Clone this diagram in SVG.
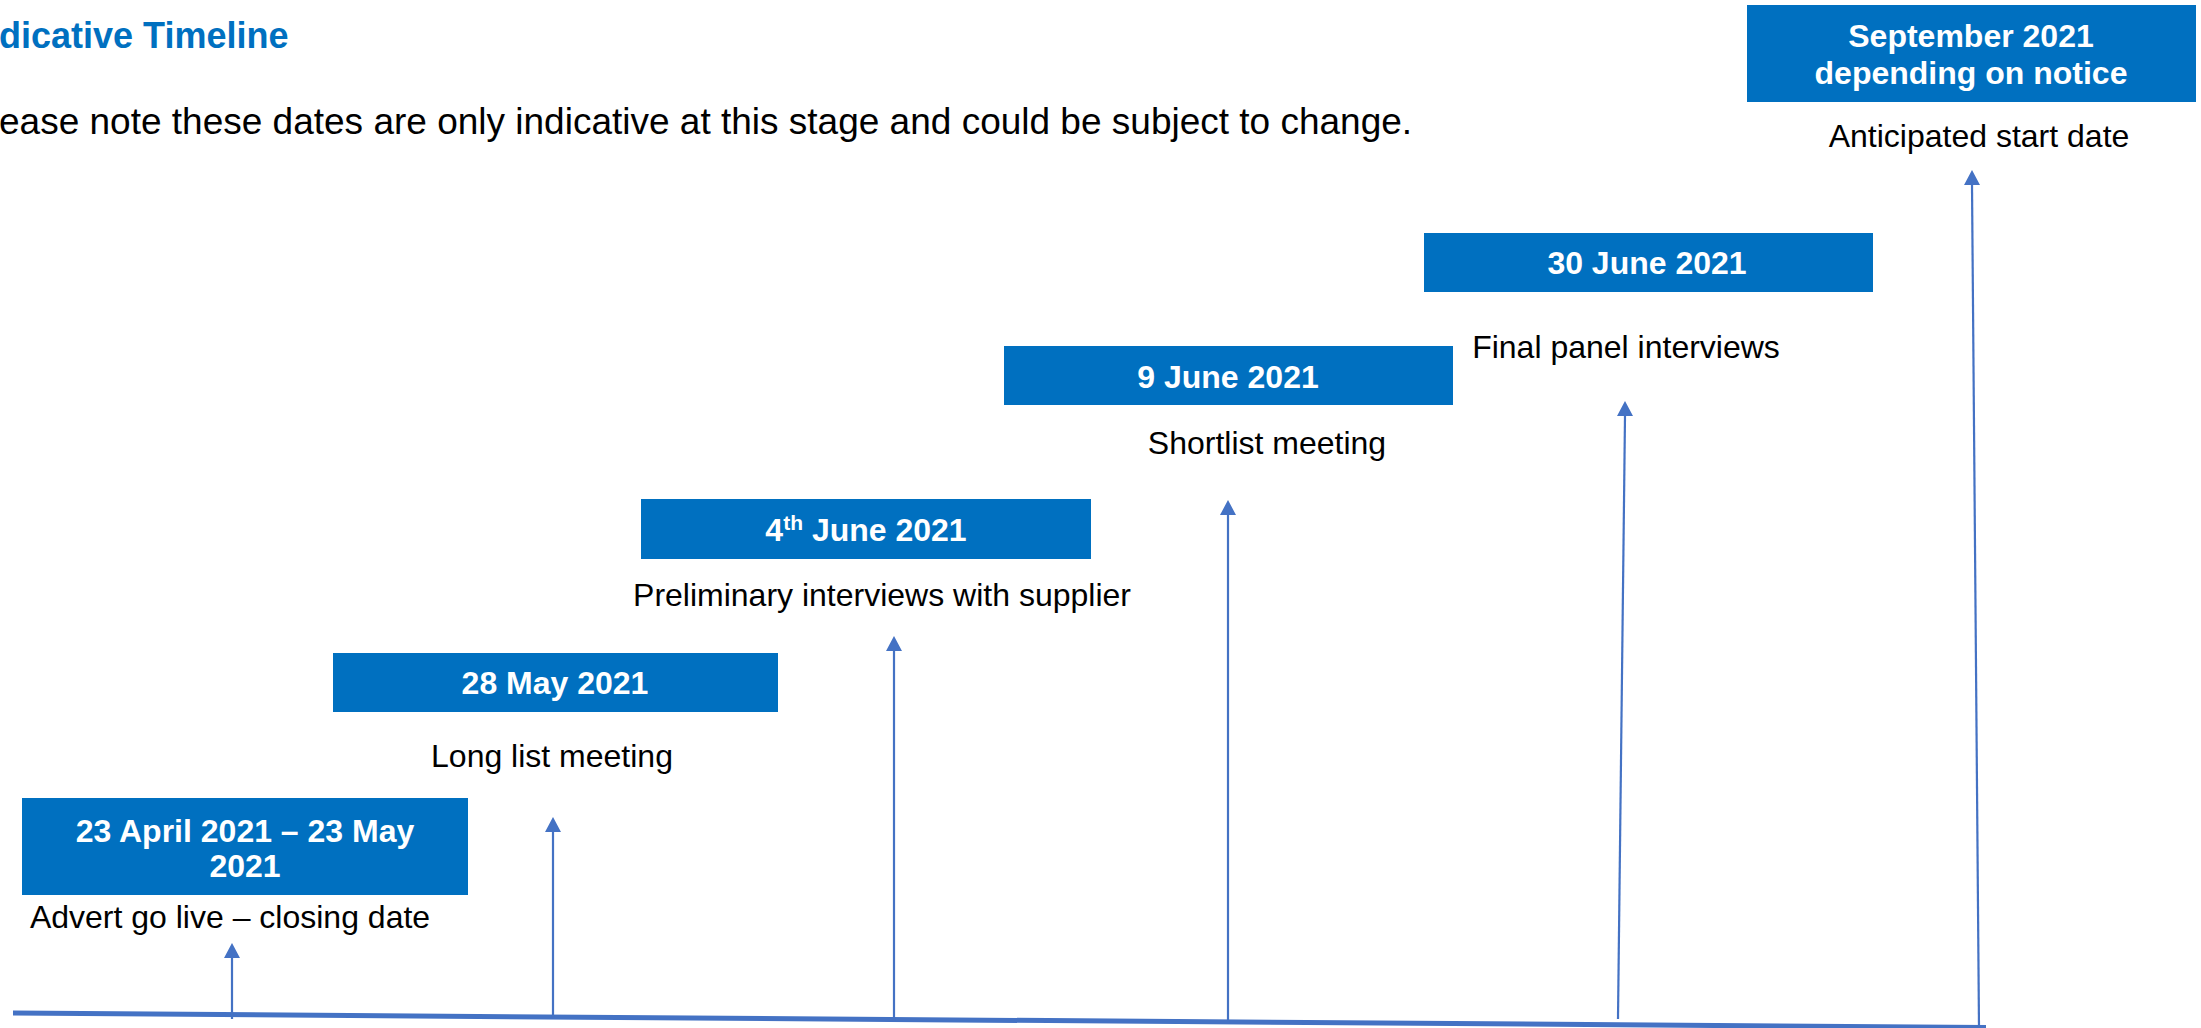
<svg xmlns="http://www.w3.org/2000/svg" width="2201" height="1028" viewBox="0 0 2201 1028">
  <style>
    .box { fill: #0070C0; }
    .date { font-family: "Liberation Sans", Arial, sans-serif; font-weight: bold; font-size: 32px; fill: #FFFFFF; text-anchor: middle; }
    .label { font-family: "Liberation Sans", Arial, sans-serif; font-size: 32px; fill: #000000; text-anchor: middle; }
    .title { font-family: "Liberation Sans", Arial, sans-serif; font-weight: bold; font-size: 36px; fill: #0070C0; }
    .note { font-family: "Liberation Sans", Arial, sans-serif; font-size: 37px; fill: #000000; }
    .axis { stroke: #4472C4; stroke-width: 5; fill: none; }
    .stem { stroke: #4472C4; stroke-width: 2.2; fill: none; }
    .head { fill: #4472C4; }
  </style>

  <rect width="2201" height="1028" fill="#FFFFFF"/>

  <!-- heading -->
  <text class="title" x="-1" y="48">dicative Timeline</text>
  <text class="note" x="-1" y="134">ease note these dates are only indicative at this stage and could be subject to change.</text>

  <!-- connectors: time axis and milestone stems with arrowheads -->
  <g id="connectors">
    <line class="axis" x1="13" y1="1013" x2="1986" y2="1027.5"/>
    <path class="stem" d="M232 1019 L232 958"/>
    <path class="stem" d="M553 1018 L553 832"/>
    <path class="stem" d="M894 1021 L894 651"/>
    <path class="stem" d="M1228 1023 L1228 515"/>
    <path class="stem" d="M1618 1019 L1625 416"/>
    <path class="stem" d="M1979 1028 L1972 185"/>
    <path class="head" d="M232 943 L224 958 L240 958 Z"/>
    <path class="head" d="M553 817 L545 832 L561 832 Z"/>
    <path class="head" d="M894 636 L886 651 L902 651 Z"/>
    <path class="head" d="M1228 500 L1220 515 L1236 515 Z"/>
    <path class="head" d="M1625 401 L1617 416 L1633 416 Z"/>
    <path class="head" d="M1972 170 L1964 185 L1980 185 Z"/>
  </g>

  <g id="m1-advert">
    <rect class="box" x="22" y="798" width="446" height="97"/>
    <text class="date" x="245" y="842">23 April 2021 – 23 May</text>
    <text class="date" x="245" y="877">2021</text>
    <text class="label" x="230" y="928">Advert go live – closing date</text>
  </g>

  <g id="m2-longlist">
    <rect class="box" x="333" y="653" width="445" height="59"/>
    <text class="date" x="555" y="694">28 May 2021</text>
    <text class="label" x="552" y="767">Long list meeting</text>
  </g>

  <g id="m3-preliminary">
    <rect class="box" x="641" y="499" width="450" height="60"/>
    <text class="date" x="866" y="541">4<tspan font-size="21px" baseline-shift="11px">th</tspan> June 2021</text>
    <text class="label" x="882" y="606">Preliminary interviews with supplier</text>
  </g>

  <g id="m4-shortlist">
    <rect class="box" x="1004" y="346" width="449" height="59"/>
    <text class="date" x="1228" y="388">9 June 2021</text>
    <text class="label" x="1267" y="454">Shortlist meeting</text>
  </g>

  <g id="m5-final">
    <rect class="box" x="1424" y="233" width="449" height="59"/>
    <text class="date" x="1647" y="274">30 June 2021</text>
    <text class="label" x="1626" y="358">Final panel interviews</text>
  </g>

  <g id="m6-start">
    <rect class="box" x="1747" y="5" width="449" height="97"/>
    <text class="date" x="1971" y="47">September 2021</text>
    <text class="date" x="1971" y="84">depending on notice</text>
    <text class="label" x="1979" y="147">Anticipated start date</text>
  </g>
</svg>
